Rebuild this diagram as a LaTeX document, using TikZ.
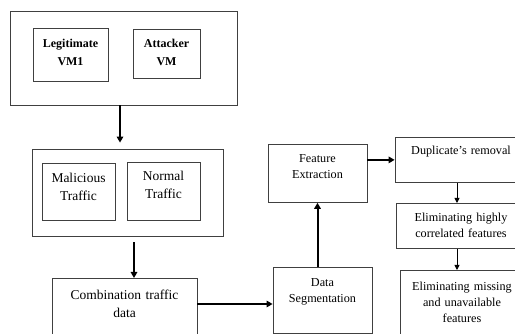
\documentclass[tikz,border=0pt]{standalone}
\usepackage{fontspec}
\setmainfont{Liberation Serif}
\usetikzlibrary{arrows.meta}

\begin{document}
\begin{tikzpicture}[x=1pt, y=-1pt,
  frame/.style={draw=black!75, line width=0.8pt, inner sep=0pt},
  blk/.style={frame, anchor=north, align=center},
  vm/.style={blk, font=\fontsize{12}{18}\selectfont\bfseries},
  tr/.style={blk, font=\fontsize{13.5}{18}\selectfont},
  stage/.style={blk, font=\fontsize{12.2}{16.3}\selectfont},
  flow/.style={-{Triangle[length=6pt,width=6.5pt]}, line width=2pt},
  thinflow/.style={-{Triangle[length=5pt,width=5pt]}, line width=0.9pt}]
\useasboundingbox (0,0) rectangle (515,334);
\clip (0,0) rectangle (515,334);
% virtual machines
\node[frame, minimum width=227pt, minimum height=94pt] (host) at (123.5,58) {};
\node[vm, text width=75pt, text height=19pt, text depth=34pt] (legit) at (70.5,28) {Legitimate\\VM1};
\node[vm, text width=67pt, text height=18pt, text depth=31pt] (attack) at (166.5,29) {Attacker\\VM};
% traffic
\node[frame, minimum width=191pt, minimum height=87pt] (traffic) at (127.5,192.5) {};
\node[tr, text width=73pt, text height=19pt, text depth=38pt] (malic) at (78.5,163) {Malicious\\Traffic};
\node[tr, text width=73pt, text height=18pt, text depth=40pt] (normal) at (163.5,162) {Normal\\Traffic};
\node[tr, text width=145pt, text height=21pt, text depth=70pt] (comb) at (124.5,278) {Combination traffic\\data};
% processing stages
\node[stage, text width=99pt, text height=19pt, text depth=47pt] (ds) at (322.5,267) {Data\\Segmentation};
\node[stage, text width=99pt, text height=18pt, text depth=40pt] (fe) at (317.5,144) {Feature\\Extraction};
\node[stage, text width=132pt, text height=17pt, text depth=28pt] (dup) at (461,137) {Duplicate’s removal};
\node[stage, text width=130pt, text height=18pt, text depth=27pt] (elimcorr) at (461,203) {Eliminating highly\\correlated features};
\node[stage, text width=124pt, text height=20pt, text depth=80pt] (elimmiss) at (462,270) {Eliminating missing\\and unavailable\\features};
\draw[flow, shorten >=6pt] ([xshift=-3.5pt]host.south) -- ([xshift=-7.5pt]traffic.north);
\draw[flow, shorten <=6pt] ([xshift=6.5pt]traffic.south) -- ([xshift=9.5pt]comb.north);
\coordinate (cj) at ([yshift=-26pt]comb.north east);
\draw[flow] (cj) -- (cj -| ds.west);
\draw[flow] (fe.south |- ds.north) -- (fe.south);
\draw[flow] (fe.east |- dup.west) -- (dup.west);
\draw[thinflow] ([xshift=-4pt]dup.south) -- ([xshift=-4pt]elimcorr.north);
\draw[thinflow] ([xshift=-4pt]elimcorr.south) -- ([xshift=-5pt]elimmiss.north);
\end{tikzpicture}
\end{document}
